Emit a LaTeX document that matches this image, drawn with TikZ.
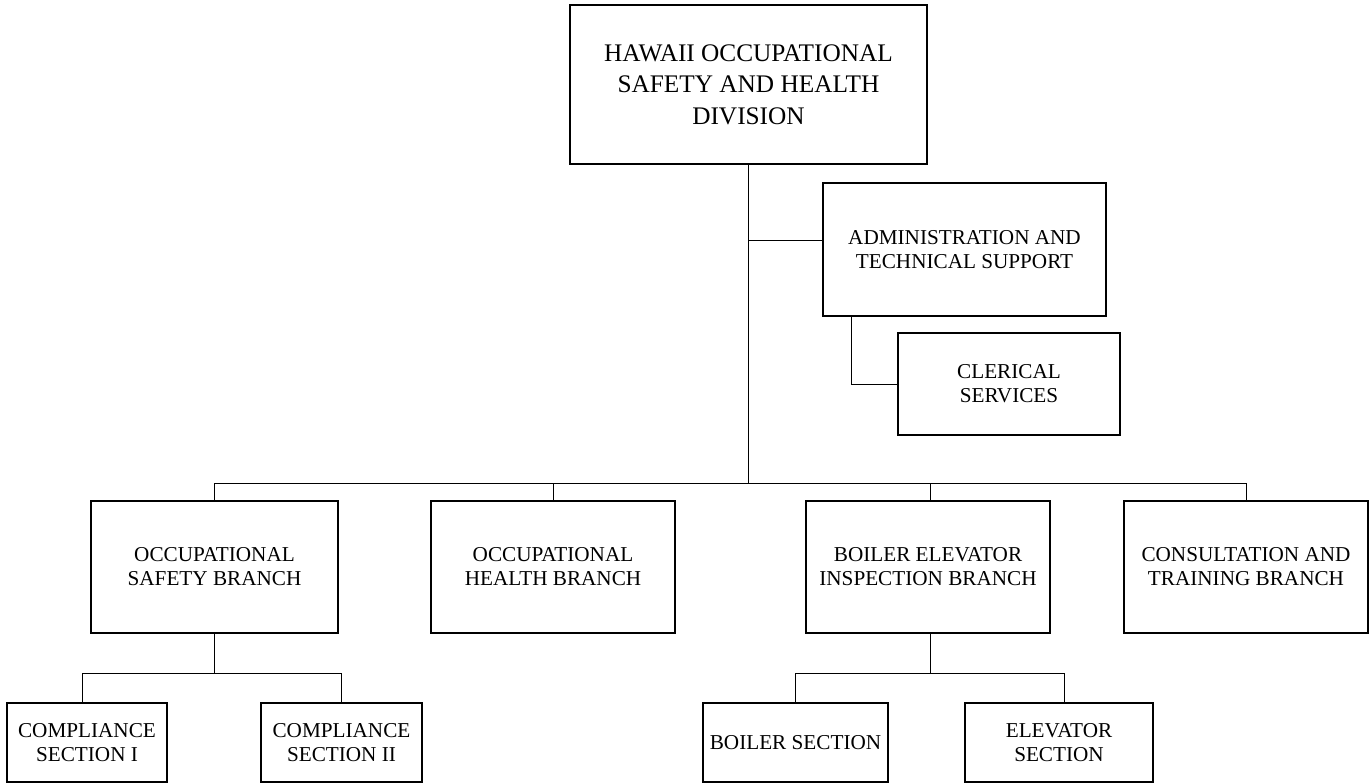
\documentclass[tikz,border=0pt]{standalone}
\usepackage{fontspec}
\setmainfont{Liberation Serif}
\begin{document}
\begin{tikzpicture}[x=1pt,y=-1pt,
  box/.style={draw=black,line width=1.3pt,align=center,inner sep=0pt,font=\fontsize{21.2}{24}\selectfont},
  bigbox/.style={box,font=\fontsize{25.3}{31.5}\selectfont},
  link/.style={draw=black,line width=0.9pt}]
\fill[white] (0,0) rectangle (1370,784);
\useasboundingbox (0,0) rectangle (1370,784);
\node[bigbox,minimum width=357pt,minimum height=159pt] (top) at (748.5,84.5) {HAWAII OCCUPATIONAL\\SAFETY AND HEALTH\\DIVISION};
\node[box,minimum width=283pt,minimum height=133pt] (admin) at (964.5,249.5) {ADMINISTRATION AND\\TECHNICAL SUPPORT};
\node[box,minimum width=222pt,minimum height=102pt] (cler) at (1009,384) {CLERICAL\\SERVICES};
\node[box,minimum width=247pt,minimum height=132pt] (osb) at (214.5,567) {OCCUPATIONAL\\SAFETY BRANCH};
\node[box,minimum width=244pt,minimum height=132pt] (ohb) at (553,567) {OCCUPATIONAL\\HEALTH BRANCH};
\node[box,minimum width=244pt,minimum height=132pt] (beib) at (928,567) {BOILER ELEVATOR\\INSPECTION BRANCH};
\node[box,minimum width=244pt,minimum height=132pt] (ctb) at (1246,567) {CONSULTATION AND\\TRAINING BRANCH};
\node[box,minimum width=160pt,minimum height=79pt] (cs1) at (87,742.5) {COMPLIANCE\\SECTION I};
\node[box,minimum width=161pt,minimum height=79pt] (cs2) at (341.5,742.5) {COMPLIANCE\\SECTION II};
\node[box,minimum width=185pt,minimum height=79pt] (boil) at (795.5,742.5) {BOILER SECTION};
\node[box,minimum width=188pt,minimum height=79pt] (elev) at (1059,742.5) {ELEVATOR\\SECTION};
% coordinates
\coordinate (bus) at (0,483);
\coordinate (sb) at (0,673);
\coordinate (aw) at ([yshift=9.5pt]admin.west);
% trunk
\draw[link] (top.south) -- (top.south |- bus);
\draw[link] (aw) -- (aw -| top.south);
\draw[link] ([xshift=29pt]admin.south west) |- (cler.west);
\draw[link] (osb.north) -- (osb.north |- bus) -- (ctb.north |- bus) -- (ctb.north);
\draw[link] (ohb.north) -- (ohb.north |- bus);
\draw[link] ([xshift=2pt]beib.north) -- ([xshift=2pt]beib.north |- bus);
% safety sub
\draw[link] (osb.south) -- (osb.south |- sb);
\draw[link] ([xshift=-5pt]cs1.north) -- ([xshift=-5pt]cs1.north |- sb) -- (cs2.north |- sb) -- (cs2.north);
% boiler sub
\draw[link] ([xshift=2pt]beib.south) -- ([xshift=2pt]beib.south |- sb);
\draw[link] (boil.north) -- (boil.north |- sb) -- ([xshift=5pt]elev.north |- sb) -- ([xshift=5pt]elev.north);
\end{tikzpicture}
\end{document}
